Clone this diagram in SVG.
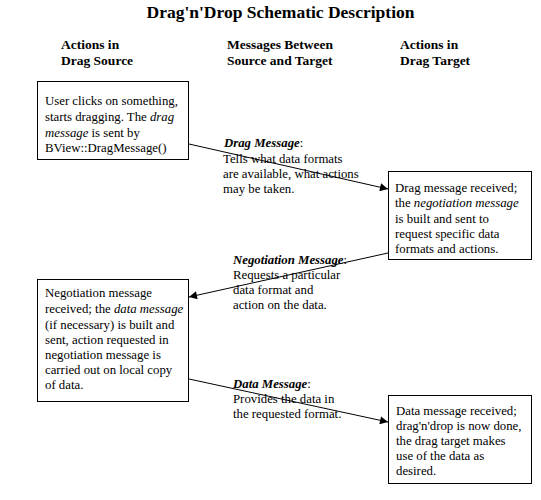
<svg xmlns="http://www.w3.org/2000/svg" width="541" height="500" viewBox="0 0 541 500">
<style>
text{font-family:"Liberation Serif","Times New Roman",serif;fill:#000}
.title{font-size:17.5px;font-weight:bold}
.hdr{font-size:13.5px;font-weight:bold}
.body{font-size:12.8px}
.it{font-style:italic}
.bi{font-style:italic;font-weight:bold}
.box{fill:#fff;stroke:#000;stroke-width:1}
.conn{stroke:#000;stroke-width:1;fill:none;marker-end:url(#arr)}
</style>
<defs>
<marker id="arr" viewBox="0 0 10 10" refX="10" refY="5" markerWidth="9" markerHeight="8" markerUnits="userSpaceOnUse" orient="auto">
<path d="M0,0 L10,5 L0,10 z" fill="#000"/>
</marker>
</defs>
<rect width="541" height="500" fill="#fff"/>
<text class="title" x="280.5" y="18" text-anchor="middle">Drag'n'Drop Schematic Description</text>
<g id="headers" class="hdr">
<text class="hdr" x="61" y="49">Actions in</text>
<text class="hdr" x="61" y="65">Drag Source</text>
<text class="hdr" x="227" y="49">Messages Between</text>
<text class="hdr" x="227" y="65">Source and Target</text>
<text class="hdr" x="400" y="49">Actions in</text>
<text class="hdr" x="400" y="65">Drag Target</text>
</g>
<g id="source1">
<rect class="box" x="37.5" y="81.5" width="151" height="78"/>
<text class="body" x="45" y="105">User clicks on something,</text>
<text class="body" x="45" y="121">starts dragging. The <tspan class="it">drag</tspan></text>
<text class="body" x="45" y="137"><tspan class="it">message</tspan> is sent by</text>
<text class="body" x="45" y="152">BView::DragMessage()</text>
</g>
<g id="target1">
<rect class="box" x="388.5" y="171.5" width="143" height="88"/>
<text class="body" x="395" y="192">Drag message received;</text>
<text class="body" x="395" y="207">the <tspan class="it">negotiation message</tspan></text>
<text class="body" x="395" y="223">is built and sent to</text>
<text class="body" x="395" y="238">request specific data</text>
<text class="body" x="395" y="253">formats and actions.</text>
</g>
<g id="source2">
<rect class="box" x="37.5" y="279.5" width="151" height="122"/>
<text class="body" x="45" y="297">Negotiation message</text>
<text class="body" x="45" y="313">received; the <tspan class="it">data message</tspan></text>
<text class="body" x="45" y="329">(if necessary) is built and</text>
<text class="body" x="45" y="344">sent, action requested in</text>
<text class="body" x="45" y="359">negotiation message is</text>
<text class="body" x="45" y="374">carried out on local copy</text>
<text class="body" x="45" y="389">of data.</text>
</g>
<g id="target2">
<rect class="box" x="388.5" y="395.5" width="143" height="88"/>
<text class="body" x="396" y="415">Data message received;</text>
<text class="body" x="396" y="430">drag'n'drop is now done,</text>
<text class="body" x="396" y="445">the drag target makes</text>
<text class="body" x="396" y="460">use of the data as</text>
<text class="body" x="396" y="475">desired.</text>
</g>
<g id="msg-drag">
<text class="body" x="224" y="147"><tspan class="bi">Drag Message</tspan>:</text>
<text class="body" x="223" y="163">Tells what data formats</text>
<text class="body" x="223" y="178">are available, what actions</text>
<text class="body" x="223" y="193">may be taken.</text>
</g>
<g id="msg-negotiation">
<text class="body" x="233" y="264"><tspan class="bi">Negotiation Message</tspan>:</text>
<text class="body" x="233" y="279">Requests a particular</text>
<text class="body" x="233" y="294">data format and</text>
<text class="body" x="233" y="309">action on the data.</text>
</g>
<g id="msg-data">
<text class="body" x="233" y="388"><tspan class="bi">Data Message</tspan>:</text>
<text class="body" x="233" y="403">Provides the data in</text>
<text class="body" x="233" y="418">the requested format.</text>
</g>
<g id="connectors">
<line class="conn" x1="189" y1="144" x2="388" y2="189"/>
<line class="conn" x1="388" y1="253" x2="189" y2="297"/>
<line class="conn" x1="189" y1="379" x2="388" y2="422"/>
</g>
</svg>
